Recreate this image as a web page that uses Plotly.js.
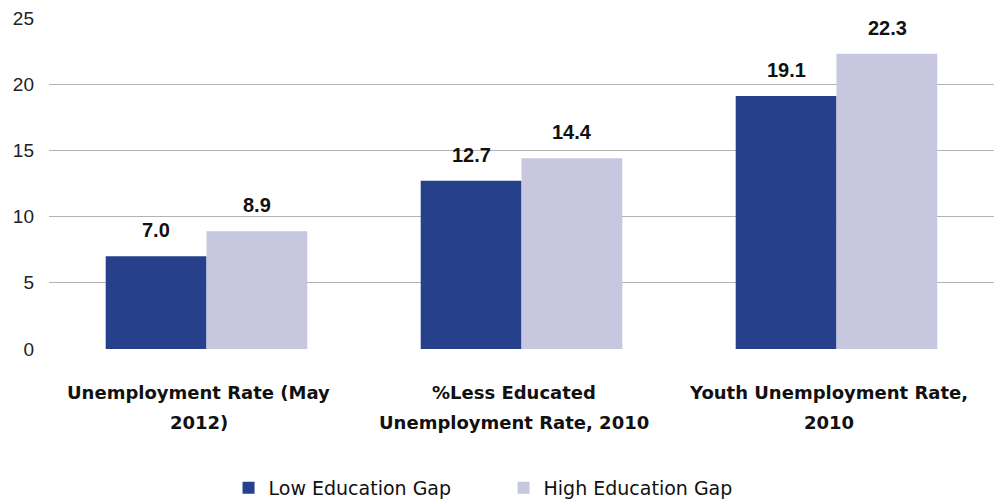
<!DOCTYPE html>
<html>
<head>
<meta charset="utf-8">
<script src="https://cdn.plot.ly/plotly-3.0.1.min.js"></script>
<style>html,body{margin:0;padding:0;background:#fff;}#chart{width:997px;height:501px;}</style>
</head>
<body>
<div id="chart"></div>
<script>
const categories = ["Unemployment Rate (May 2012)", "%Less Educated Unemployment Rate, 2010", "Youth Unemployment Rate, 2010"];
const labelLine1 = ["Unemployment Rate (May", "%Less Educated", "Youth Unemployment Rate,"];
const labelLine2 = ["2012)", "Unemployment Rate, 2010", "2010"];
const lowGap = [7.0, 12.7, 19.1];
const highGap = [8.9, 14.4, 22.3];
const seriesNames = ["Low Education Gap", "High Education Gap"];
const yTicks = [0, 5, 10, 15, 20, 25];

const colors = ["#26408c", "#c8c7e0"];

const traces = [
  {type: "bar", name: seriesNames[0], x: categories, y: lowGap, marker: {color: colors[0]}, hoverinfo: "none"},
  {type: "bar", name: seriesNames[1], x: categories, y: highGap, marker: {color: colors[1]}, hoverinfo: "none"}
];

const annotations = [];
const barShift = 50.5;
[lowGap, highGap].forEach((vals, s) => {
  vals.forEach((v, i) => {
    annotations.push({
      x: categories[i], y: v, xref: "x", yref: "y",
      text: v.toFixed(1), showarrow: false,
      xshift: s === 0 ? -barShift : barShift, yanchor: "bottom", yshift: 13,
      font: {family: "Liberation Sans, Arial, sans-serif", size: 20, color: "#111", weight: "bold"}
    });
  });
});
categories.forEach((c, i) => {
  annotations.push({x: c, xref: "x", yref: "paper", y: 0, yanchor: "middle", yshift: -43, xshift: -8,
    text: "<b>" + labelLine1[i] + "</b>", showarrow: false,
    font: {family: "DejaVu Sans, sans-serif", size: 18, color: "#111"}});
  annotations.push({x: c, xref: "x", yref: "paper", y: 0, yanchor: "middle", yshift: -73, xshift: -8,
    text: "<b>" + labelLine2[i] + "</b>", showarrow: false,
    font: {family: "DejaVu Sans, sans-serif", size: 18, color: "#111"}});
});

const layout = {
  width: 997, height: 501,
  margin: {l: 49, r: 3, t: 18, b: 152, autoexpand: false},
  paper_bgcolor: "#fff", plot_bgcolor: "#fff",
  barmode: "group", bargap: 0.36, bargroupgap: 0,
  xaxis: {showticklabels: false, showgrid: false, zeroline: false, showline: false, ticks: ""},
  yaxis: {range: [0, 25], tickvals: yTicks, ticktext: yTicks.map(String), showgrid: true, gridcolor: "#b3b3b3", gridwidth: 1.2,
    zeroline: false, showline: false, ticks: "", ticklabelstandoff: 14,
    tickfont: {family: "Liberation Sans, Arial, sans-serif", size: 19, color: "#222"}},
  showlegend: true,
  legend: {orientation: "h", x: 0.19, xanchor: "left", y: -0.42, yanchor: "middle",
    font: {family: "DejaVu Sans, sans-serif", size: 19, color: "#111"}, entrywidth: 230, entrywidthmode: "pixels", itemwidth: 30},
  annotations: annotations
};

Plotly.newPlot("chart", traces, layout, {displayModeBar: false, staticPlot: true});
</script>
</body>
</html>
